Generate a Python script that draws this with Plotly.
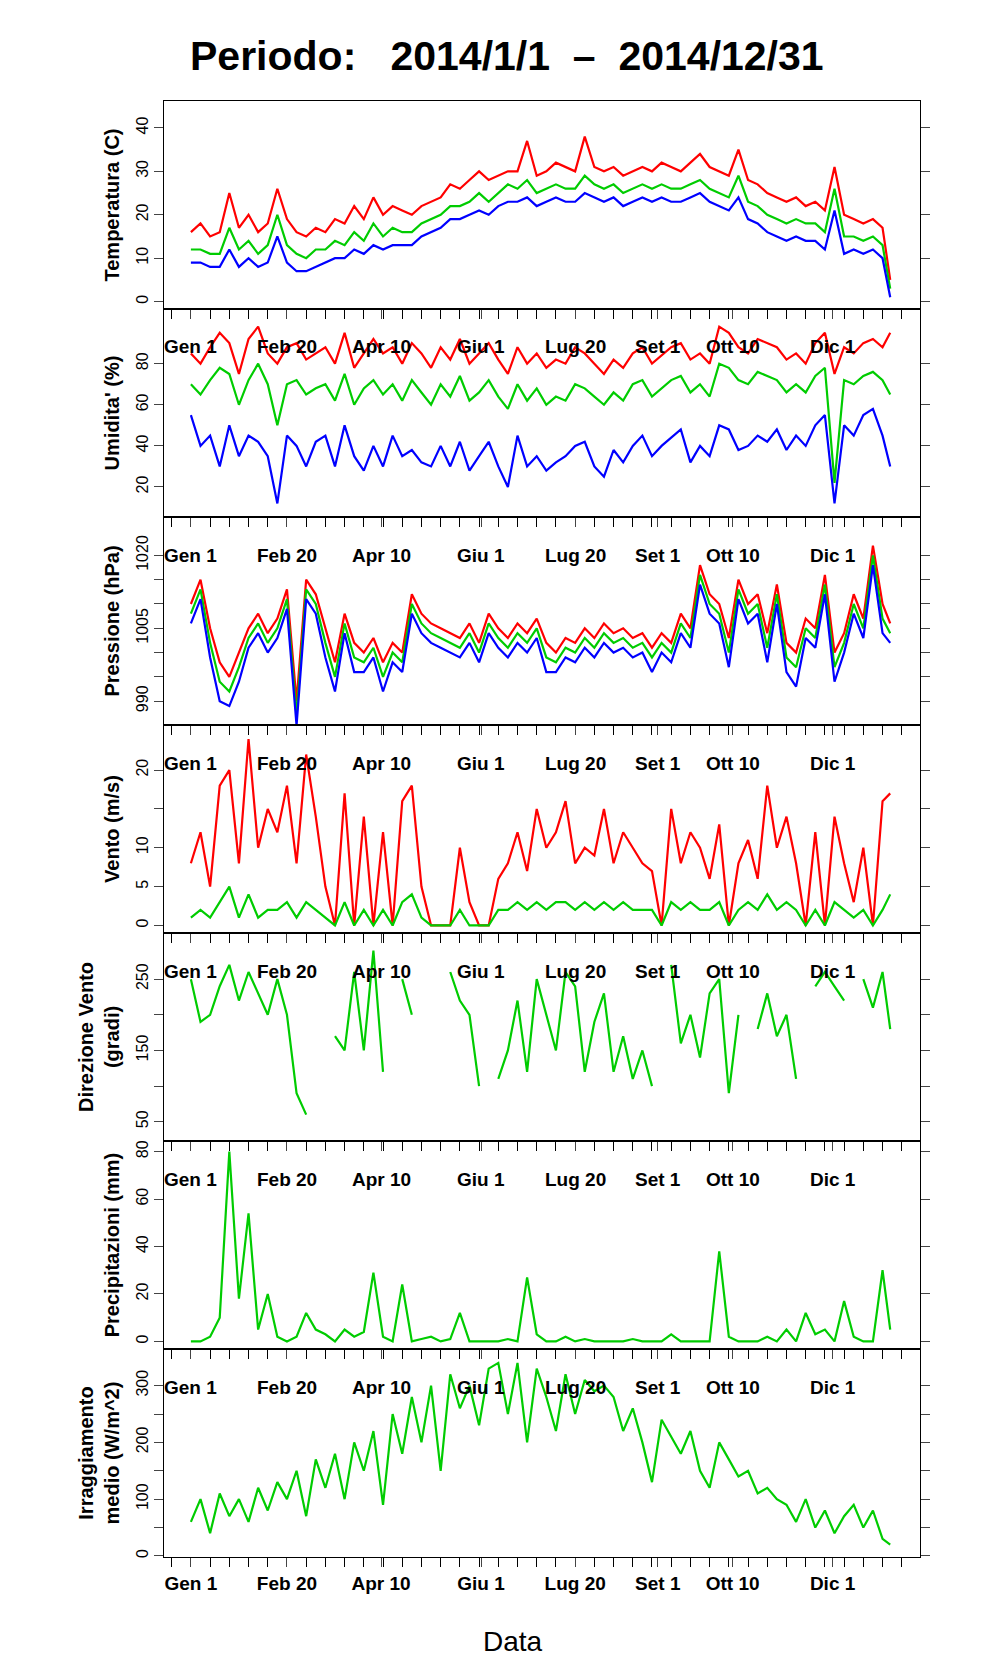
import plotly.graph_objects as go

days = list(range(0, 365, 5)) + [364]

tmax = [16,18,15,16,25,17,20,16,18,26, 19,16,15,17,16,19,18,22,19,24, 20,22,21,20,22,23,24,27,26,28,
        30,28,29,30,30,37,29,30,32,31, 30,38,31,30,31,29,30,31,30,32, 31,30,32,34,31,30,29,35,28,27,
        25,24,23,24,22,23,21,31,20,19, 18,19,17,5]
tmean = [12,12,11,11,17,12,14,11,13,20, 13,11,10,12,12,14,13,16,14,18, 15,17,16,16,18,19,20,22,22,23,
         25,23,25,27,26,28,25,26,27,26, 26,29,27,26,27,25,26,27,26,27, 26,26,27,28,26,25,24,29,23,22,
         20,19,18,19,18,18,16,26,15,15, 14,15,13,3]
tmin = [9,9,8,8,12,8,10,8,9,15, 9,7,7,8,9,10,10,12,11,13, 12,13,13,13,15,16,17,19,19,20,
        21,20,22,23,23,24,22,23,24,23, 23,25,24,23,24,22,23,24,23,24, 23,23,24,25,23,22,21,24,19,18,
        16,15,14,15,14,14,12,21,11,12, 11,12,10,1]

hmax = [85,80,88,95,90,75,92,98,85,80, 88,90,82,85,88,80,95,78,85,92, 85,88,80,90,85,78,88,82,92,80,
        85,90,82,75,88,80,85,78,82,80, 88,85,80,75,82,78,85,88,80,84, 88,90,82,85,80,98,95,88,85,92,
        90,88,82,85,80,90,95,75,88,85, 90,92,88,95]
hmean = [70,65,72,78,75,60,72,80,70,50, 70,72,65,68,70,62,75,60,68,72, 65,70,62,72,66,60,70,64,74,62,
         66,72,64,58,70,62,68,60,64,62, 70,68,64,60,66,62,70,72,64,68, 72,74,66,70,64,80,78,72,70,76,
         74,72,66,70,66,74,78,22,72,70, 74,76,72,65]
hmin = [55,40,45,30,50,35,45,42,35,12, 45,40,30,42,45,30,50,35,28,40, 30,45,35,38,32,30,40,30,42,28,
        35,42,30,20,45,30,35,28,32,35, 40,42,30,25,38,32,40,45,35,40, 44,48,32,40,35,50,48,38,40,45,
        42,48,38,45,40,50,55,12,50,45, 55,58,45,30]

pmax = [1010,1015,1005,998,995,1000,1005,1008,1004,1007, 1013,990,1015,1012,1005,998,1008,1002,1000,1003,
        998,1002,1000,1012,1008,1006,1005,1004,1003,1006, 1002,1008,1005,1003,1006,1004,1007,1002,1000,1003,
        1002,1005,1003,1006,1004,1005,1003,1004,1001,1004, 1002,1008,1005,1018,1012,1010,1003,1015,1010,1012,
        1004,1014,1002,1000,1007,1005,1016,1000,1004,1012, 1007,1022,1010,1006]
pmean = [1008,1013,1002,994,992,997,1003,1006,1002,1005, 1011,987,1013,1010,1002,995,1006,999,998,1001,
         995,1000,998,1010,1006,1004,1003,1002,1001,1004, 1000,1006,1003,1001,1004,1002,1005,999,998,1001,
         1000,1003,1001,1004,1002,1003,1001,1002,999,1002, 1000,1006,1003,1016,1010,1008,1000,1013,1008,1010,
         1001,1012,999,997,1005,1003,1014,997,1002,1010, 1005,1020,1007,1004]
pmin = [1006,1011,999,990,989,994,1001,1004,1000,1003, 1009,985,1011,1008,999,992,1004,996,996,999,
        992,998,996,1008,1004,1002,1001,1000,999,1002, 998,1004,1001,999,1002,1000,1003,996,996,999,
        998,1001,999,1002,1000,1001,999,1000,996,1000, 998,1004,1001,1014,1008,1006,997,1011,1006,1008,
        998,1010,996,993,1003,1001,1012,994,1000,1008, 1003,1018,1004,1002]

wmax = [8,12,5,18,20,8,24,10,15,12, 18,8,22,14,5,0,17,0,14,0, 12,0,16,18,5,0,0,0,10,3,
        0,0,6,8,12,7,15,10,12,16, 8,10,9,15,8,12,10,8,7,0, 15,8,12,10,6,13,0,8,11,6,
        18,10,14,8,0,12,0,14,8,3, 10,0,16,17]
wmean = [1,2,1,3,5,1,4,1,2,2, 3,1,3,2,1,0,3,0,2,0, 2,0,3,4,1,0,0,0,2,0,
         0,0,2,2,3,2,3,2,3,3, 2,3,2,3,2,3,2,2,2,0, 3,2,3,2,2,3,0,2,3,2,
         4,2,3,2,0,2,0,3,2,1, 2,0,2,4]

wdir = [250,190,200,240,270,220,260,230,200,250, 200,90,60,None,None,170,150,260,150,290,
        120,None,250,200,None,None,None,260,220,200, 100,None,110,150,220,120,250,200,150,260,
        240,120,190,230,120,170,110,150,100,None, 270,160,200,140,230,250,90,200,None,180,
        230,170,200,110,None,240,260,240,220,None, 250,210,260,180]

prec = [0,0,2,10,80,18,54,5,20,2, 0,2,12,5,3,0,5,2,4,29, 2,0,24,0,1,2,0,1,12,0,
        0,0,0,1,0,27,3,0,0,2, 0,1,0,0,0,0,1,0,0,0, 3,0,0,0,0,38,2,0,0,0,
        2,0,5,0,12,3,5,0,17,2, 0,0,30,5]

irr = [60,100,40,110,70,100,60,120,80,130, 100,150,70,170,120,180,100,200,150,220,
       90,250,180,280,200,300,150,320,260,300, 230,330,340,250,340,200,330,280,220,320,
       250,310,290,300,280,220,260,200,130,240, 210,180,220,150,120,200,170,140,150,110,
       120,100,90,60,100,50,80,40,70,90, 50,80,30,20]

tick_days = [0, 50, 99, 151, 200, 243, 282, 334]
tick_text = ["Gen 1", "Feb 20", "Apr 10", "Giu 1", "Lug 20", "Set 1", "Ott 10", "Dic 1"]

RED, GREEN, BLUE = "#ff0000", "#00cc00", "#0000ff"
W, H = 996, 1680
L, R, T = 156, 912, 93
PH = 208
B = T + 7 * PH

panels = [
    dict(title="Temperatura (C)", rng=[-1.7, 46.2], tv=[0,10,20,30,40], tt=None,
         series=[(tmax, RED), (tmean, GREEN), (tmin, BLUE)]),
    dict(title="Umidita' (%)", rng=[5.4, 106.6], tv=[20,40,60,80], tt=None,
         series=[(hmax, RED), (hmean, GREEN), (hmin, BLUE)]),
    dict(title="Pressione (hPa)", rng=[985.1, 1027.9], tv=[990,995,1000,1005,1010,1015,1020],
         tt=["990","","","1005","","","1020"],
         series=[(pmax, RED), (pmean, GREEN), (pmin, BLUE)]),
    dict(title="Vento (m/s)", rng=[-0.97, 25.8], tv=[0,5,10,15,20], tt=["0","5","10","","20"],
         series=[(wmax, RED), (wmean, GREEN)]),
    dict(title="Direzione Vento<br>(gradi)", rng=[23, 314.7], tv=[50,100,150,200,250],
         tt=["50","","150","","250"], series=[(wdir, GREEN)]),
    dict(title="Precipitazioni (mm)", rng=[-3.2, 84.5], tv=[0,20,40,60,80], tt=None,
         series=[(prec, GREEN)]),
    dict(title="Irraggiamento<br>medio (W/m^2)", rng=[-1.9, 364.5], tv=[0,50,100,150,200,250,300],
         tt=["0","","100","","200","","300"], series=[(irr, GREEN)]),
]

def py(pix):
    v = (B - pix) / (B - T)
    return min(1.0, max(0.0, v)) if T <= pix <= B else v

def px(pix):
    return (pix - L) / (R - L)

BOLD = dict(family="Liberation Sans", weight="bold")
fig = go.Figure()
layout = dict(width=W, height=H, plot_bgcolor="white", paper_bgcolor="white",
              margin=dict(l=L, r=W - R, t=T, b=H - B), showlegend=False,
              font=dict(family="Liberation Sans", color="black"))
annotations = []
xr = [-14, 379.5]
for i, p in enumerate(panels):
    n = "" if i == 0 else str(i + 1)
    top = T + i * PH
    bot = top + PH
    for ys, col in p["series"]:
        fig.add_trace(go.Scatter(x=days, y=ys, mode="lines", line=dict(color=col, width=2.2),
                                 connectgaps=False, xaxis="x" + n, yaxis="y" + n))
    last = i == len(panels) - 1
    layout["xaxis" + n] = dict(domain=[0, 1], range=xr, anchor="y" + n,
                               showline=True, mirror=True, linecolor="black", linewidth=1,
                               showgrid=False, zeroline=False,
                               tickvals=tick_days, ticktext=tick_text,
                               showticklabels=last, ticks="outside", ticklen=9,
                               tickfont=dict(size=19, **BOLD),
                               minor=dict(ticks="outside", dtick=10, tick0=0, ticklen=9, tickcolor="black"))
    layout["yaxis" + n] = dict(domain=[py(bot), py(top)], range=p["rng"], anchor="x" + n,
                               showline=True, mirror="ticks", linecolor="black", linewidth=1,
                               showgrid=False, zeroline=False, ticks="outside", ticklen=9,
                               tickvals=p["tv"], ticktext=p["tt"] if p["tt"] else [str(v) for v in p["tv"]],
                               tickangle=-90, tickfont=dict(size=16),
                               title=dict(text=p["title"], standoff=8,
                                          font=dict(size=20, **BOLD)))
    if i > 0:
        for d, t in zip(tick_days, tick_text):
            annotations.append(dict(x=d, y=py(top + 38), xref="x" + n, yref="paper", text=t,
                                    showarrow=False, yanchor="middle",
                                    font=dict(size=19, **BOLD)))

annotations.append(dict(x=px(499), y=py(48), xref="paper", yref="paper", yanchor="middle",
                        text="Periodo:   2014/1/1  \u2013  2014/12/31", showarrow=False,
                        font=dict(size=41, **BOLD)))
annotations.append(dict(x=px(505), y=py(1633), xref="paper", yref="paper", yanchor="middle",
                        text="Data", showarrow=False, font=dict(size=28, family="Liberation Sans")))
layout["annotations"] = annotations
fig.update_layout(**layout)
fig.write_html("out.html")
